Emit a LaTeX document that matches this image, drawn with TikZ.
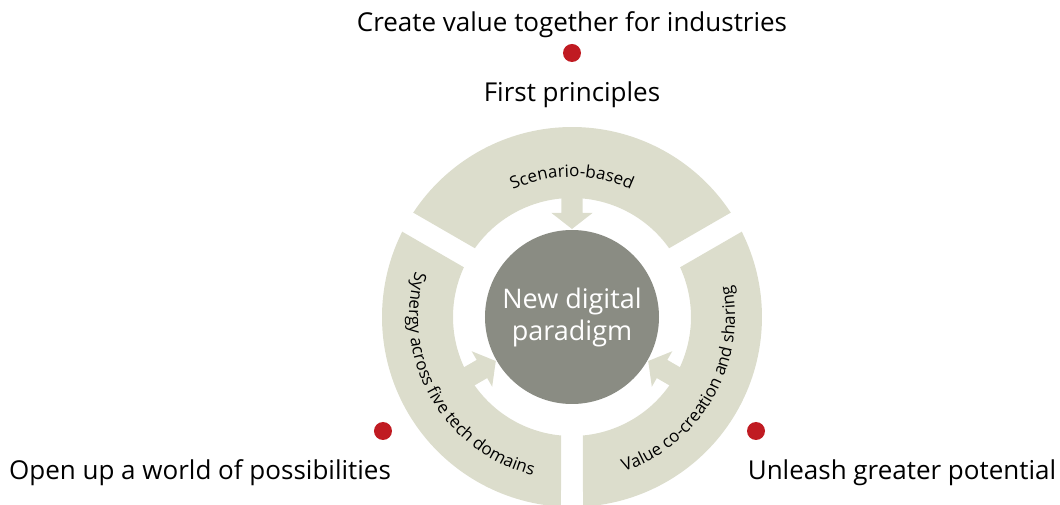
\documentclass[tikz,border=0pt]{standalone}
\usepackage{fontspec}
\setmainfont{Open Sans}
\usepackage{xcolor}
\usetikzlibrary{decorations.text, positioning}

\definecolor{ringgray}{HTML}{DCDDCC}
\definecolor{coregray}{HTML}{8A8C83}
\definecolor{dotred}{HTML}{C01B22}

\tikzset{
  reddot/.style={circle, fill=dotred, inner sep=0pt, minimum size=18pt},
  goal/.style={font=\fontsize{26}{31}\selectfont, anchor=base, inner sep=0pt},
  arclabel/.style={decorate, decoration={text along path, text align=center, text={|\arcfont|#1}}}
}
\newcommand{\arcfont}{\fontsize{17}{20}\selectfont}

\begin{document}
\begin{tikzpicture}[x=1pt, y=1pt]

    % Settings
    \def\outr{190}
    \def\inr{119}
    \def\outgap{3.32}
    \def\ingap{5.30}
    \useasboundingbox (-572,-188) rectangle (488,317);

    % Ring segments, each with an arrow to the core
    \foreach \ang in {90, 210, 330} {
            \fill[ringgray] (\ang-60+\outgap:\outr pt) arc[start angle=\ang-60+\outgap, end angle=\ang+60-\outgap, radius=\outr pt]
                -- (\ang+60-\ingap:\inr pt) arc[start angle=\ang+60-\ingap, end angle=\ang-60+\ingap, radius=\inr pt] -- cycle;
            \fill[ringgray, rotate=\ang] (\inr+4,10.5) -- (104,10.5) -- (104,20.5) -- (88,0) -- (104,-20.5) -- (104,-10.5) -- (\inr+4,-10.5) -- cycle;
        }

    % Core
    \node[circle, fill=coregray, minimum size=174pt, inner sep=0pt, text=white, align=center,
        font=\fontsize{27}{32}\selectfont] (paradigm) at (0,0) {New digital\\paradigm};

    % Texts along the ring
    \path[arclabel=Scenario-based] (150:140pt) arc[start angle=150, end angle=30, radius=140pt];
    \path[arclabel=Synergy across five tech domains] (150:163pt) arc[start angle=150, end angle=270, radius=163pt];
    \path[arclabel=Value co-creation and sharing] (270:163pt) arc[start angle=270, end angle=390, radius=163pt];

    % Goals with red dots
    \node[reddot] (topdot) at (0,264) {};
    \node[goal] (industries) at (0,285) {Create value together for industries};
    \node[goal] (principles) at (0,215) {First principles};
    \node[reddot] (leftdot) at (-189,-114) {};
    \node[goal] (possibilities) at (-372,-163) {Open up a world of possibilities};
    \node[reddot] (rightdot) at (184,-114) {};
    \node[goal] (potential) at (330,-163) {Unleash greater potential};

\end{tikzpicture}
\end{document}
